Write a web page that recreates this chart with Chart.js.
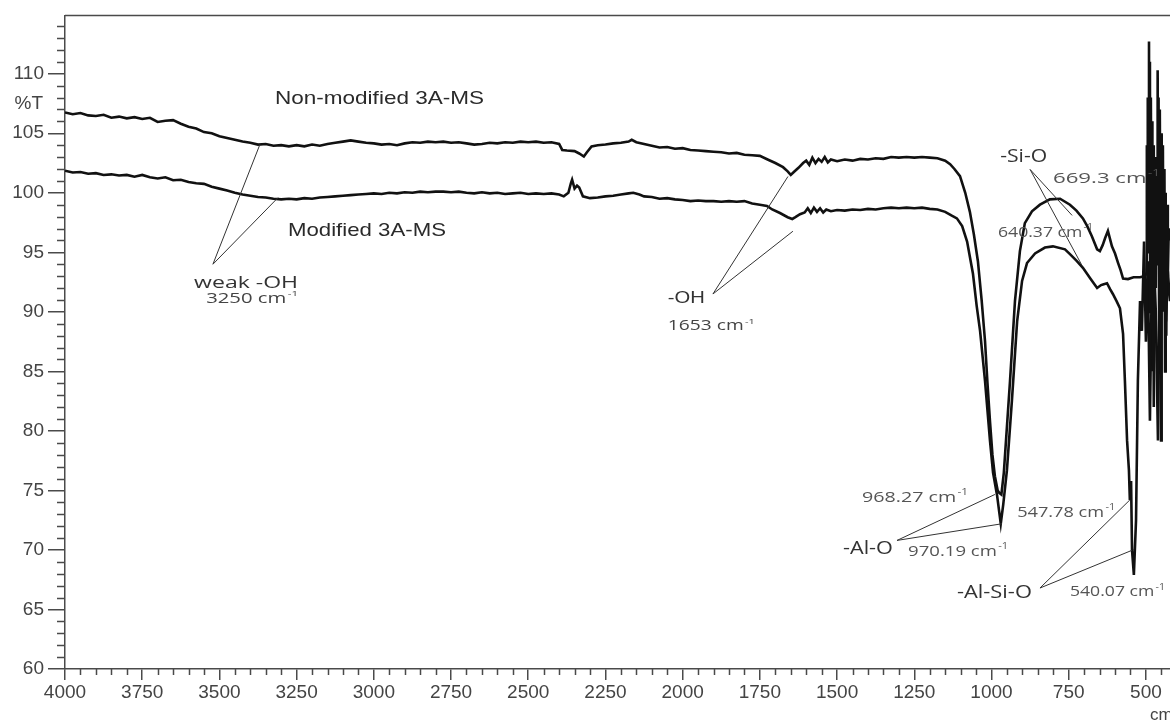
<!DOCTYPE html>
<html lang="en">
<head>
    <meta charset="UTF-8">
    <title>FTIR 3A-MS</title>
    <script src="https://cdn.jsdelivr.net/npm/chart.js"></script>
    <style>
        body, html {
            margin: 0;
            background: #fff;
        }
        canvas {
            display: block;
        }
    </style>
</head>
<body>
    <canvas id="ftirChart" width="1170" height="725"></canvas>

    <script>
        // tick values
        const xTicks = [500, 750, 1000, 1250, 1500, 1750, 2000, 2250, 2500, 2750, 3000, 3250, 3500, 3750, 4000];
        const yTicks = [60, 65, 70, 75, 80, 85, 90, 95, 100, 105, 110];

        // Non-modified 3A-MS (wavenumber cm-1, %T)
        const nmWave = [4000, 3975, 3950, 3925, 3900, 3875, 3850, 3825, 3800, 3775, 3750, 3725, 3700, 3675, 3650, 3625, 3600, 3575, 3550, 3525,
            3500, 3475, 3450, 3425, 3400, 3375, 3350, 3325, 3300, 3275, 3250, 3225, 3200, 3175, 3150, 3125, 3100, 3075, 3050, 3025,
            3000, 2975, 2950, 2925, 2900, 2875, 2850, 2825, 2800, 2775, 2750, 2725, 2700, 2675, 2650, 2625, 2600, 2575, 2550, 2525,
            2500, 2475, 2450, 2425, 2400, 2390, 2375, 2350, 2335, 2320, 2310, 2295, 2275, 2250, 2225, 2200, 2175, 2165, 2150, 2125,
            2100, 2075, 2050, 2025, 2000, 1975, 1950, 1925, 1900, 1875, 1850, 1825, 1800, 1775, 1750, 1725, 1700, 1675, 1660, 1650,
            1640, 1625, 1610, 1600, 1590, 1580, 1570, 1560, 1550, 1540, 1530, 1520, 1500, 1475, 1450, 1425, 1400, 1375, 1350, 1325,
            1300, 1275, 1250, 1225, 1200, 1175, 1150, 1134, 1120, 1102, 1085, 1070, 1057, 1044, 1032, 1021, 1013, 1005, 997, 989,
            980, 975, 968, 960, 953, 940, 924, 908, 892, 869, 843, 811, 778, 746, 725, 704, 690, 675, 658, 649,
            640, 632, 623, 618, 610, 600, 590, 582, 574, 558, 540, 519,
            503, 499, 497, 495, 494, 492, 490, 489, 487, 486, 484, 482, 480, 479, 477, 475, 474, 471, 468, 466,
            464, 462, 460, 459, 457, 455, 453, 451, 449, 447, 445, 443, 440, 438, 436, 434, 431, 429, 426, 422];
        const nmT = [106.75, 106.6, 106.7, 106.5, 106.45, 106.55, 106.3, 106.4, 106.25, 106.35, 106.2, 106.3, 105.95, 106.05, 106.1, 105.8, 105.55, 105.4, 105.1, 105.0,
            104.75, 104.6, 104.45, 104.3, 104.2, 104.05, 104.1, 103.95, 104.0, 103.9, 104.0, 103.9, 104.05, 103.95, 104.1, 104.2, 104.3, 104.4, 104.3, 104.2,
            104.15, 104.05, 104.1, 104.0, 104.15, 104.25, 104.2, 104.3, 104.25, 104.3, 104.2, 104.25, 104.15, 104.05, 104.1, 104.2, 104.15, 104.25, 104.2, 104.3,
            104.25, 104.3, 104.2, 104.25, 104.1, 103.6, 103.55, 103.5, 103.3, 103.05, 103.4, 103.9, 104.0, 104.05, 104.15, 104.2, 104.3, 104.45, 104.25, 104.1,
            103.95, 103.8, 103.85, 103.7, 103.75, 103.6, 103.55, 103.5, 103.45, 103.4, 103.3, 103.35, 103.2, 103.15, 103.1, 102.8, 102.5, 102.15, 101.8, 101.5,
            101.75, 102.1, 102.5, 102.7, 102.35, 102.95, 102.5, 102.85, 102.6, 103.0, 102.55, 102.8, 102.65, 102.8, 102.7, 102.85, 102.8, 102.9, 102.85, 103.0,
            102.95, 103.0, 102.95, 103.0, 102.95, 102.9, 102.7, 102.4, 102.0, 101.4, 100.0, 98.4, 96.5, 94.25, 91.0, 87.55, 84.0, 80.85, 78.0, 76.2,
            75.0, 74.8, 74.66, 76.5, 79.2, 84.2, 90.9, 95.1, 97.45, 98.45, 99.0, 99.45, 99.5, 99.0, 98.5, 97.85, 97.2, 96.35, 95.25, 95.1,
            95.6, 96.2, 96.8, 96.3, 95.5, 94.9, 94.1, 93.5, 92.8, 92.75, 92.9, 92.9,
            93.0, 93.2, 104.0, 96.0, 108.0, 95.0, 112.7, 97.0, 111.0, 90.0, 108.0, 96.0, 106.0, 85.0, 104.0, 98.0, 82.0, 96.0, 92.0, 103.0,
            94.0, 110.3, 96.0, 108.0, 86.0, 107.0, 95.0, 79.2, 105.0, 97.0, 104.0, 90.0, 102.0, 85.0, 100.0, 88.0, 99.0, 93.0, 97.0, 96.0];

        // Modified 3A-MS (wavenumber cm-1, %T)
        const mWave = [4000, 3975, 3950, 3925, 3900, 3875, 3850, 3825, 3800, 3775, 3750, 3725, 3700, 3675, 3650, 3625, 3600, 3575, 3550, 3525,
            3500, 3475, 3450, 3425, 3400, 3375, 3350, 3325, 3300, 3275, 3250, 3225, 3200, 3175, 3150, 3125, 3100, 3075, 3050, 3025,
            3000, 2975, 2950, 2925, 2900, 2875, 2850, 2825, 2800, 2775, 2750, 2725, 2700, 2675, 2650, 2625, 2600, 2575, 2550, 2525,
            2500, 2475, 2450, 2425, 2400, 2385, 2370, 2362, 2358, 2350, 2342, 2335, 2323, 2300, 2275, 2250, 2225, 2200, 2175, 2160,
            2140, 2125, 2100, 2075, 2050, 2025, 2000, 1975, 1950, 1925, 1900, 1875, 1850, 1825, 1800, 1775, 1750, 1727, 1710, 1685,
            1660, 1645, 1635, 1620, 1605, 1595, 1585, 1575, 1565, 1555, 1545, 1535, 1520, 1500, 1475, 1450, 1425, 1400, 1375, 1350,
            1325, 1300, 1275, 1250, 1225, 1200, 1175, 1150, 1130, 1112, 1095, 1079, 1060, 1048, 1037, 1021, 1005, 995, 982, 975,
            970, 962, 950, 934, 917, 901, 885, 859, 827, 801, 762, 746, 725, 704, 680, 658, 645, 639, 626, 616,
            607, 595, 584, 574, 568, 561, 555, 552, 548, 545, 539, 532, 526, 519, 513, 506, 500, 494, 487, 481,
            474, 468, 461, 455, 448, 442, 435, 429, 422];
        const mT = [101.85, 101.7, 101.75, 101.6, 101.65, 101.5, 101.55, 101.45, 101.5, 101.35, 101.5, 101.3, 101.2, 101.3, 101.05, 101.1, 100.9, 100.8, 100.75, 100.5,
            100.35, 100.2, 100.0, 99.85, 99.75, 99.65, 99.6, 99.5, 99.45, 99.5, 99.45, 99.55, 99.5, 99.6, 99.65, 99.7, 99.75, 99.8, 99.85, 99.9,
            99.95, 99.9, 100.0, 99.95, 100.05, 100.0, 100.1, 100.05, 100.1, 100.1, 100.05, 100.1, 100.0, 99.95, 100.05, 99.95, 100.0, 99.9, 99.95, 100.0,
            99.9, 99.95, 99.9, 99.95, 99.85, 99.7, 100.0, 100.8, 101.1, 100.35, 100.6, 100.45, 99.7, 99.55, 99.6, 99.7, 99.75, 99.85, 99.95, 100.0,
            99.85, 99.7, 99.65, 99.5, 99.55, 99.45, 99.4, 99.3, 99.35, 99.3, 99.3, 99.25, 99.3, 99.25, 99.3, 99.1, 99.0, 98.9, 98.6, 98.3,
            97.95, 97.8, 97.95, 98.2, 98.35, 98.7, 98.3, 98.75, 98.4, 98.7, 98.35, 98.6, 98.45, 98.55, 98.5, 98.6, 98.55, 98.65, 98.6, 98.7,
            98.75, 98.7, 98.75, 98.7, 98.75, 98.65, 98.6, 98.4, 98.1, 97.85, 97.2, 95.9, 93.2, 90.5, 88.4, 84.2, 79.2, 76.5, 74.6, 73.2,
            72.2, 73.8, 76.7, 82.5, 89.2, 92.6, 94.1, 94.9, 95.4, 95.5, 95.25, 94.85, 94.3, 93.7, 92.8, 92.0, 92.25, 92.3, 92.4, 91.9,
            91.5, 90.9, 90.3, 88.15, 84.2, 79.2, 76.7, 74.2, 75.8, 70.0, 67.9, 72.5, 84.2, 90.9, 88.4, 95.9, 87.5, 94.25, 80.85, 92.6,
            94.25, 90.05, 79.2, 93.4, 90.9, 95.1, 89.2, 93.4, 90.9];

        // annotation leader lines and texts, anchored in data units
        const leaders = [
            [3521, 94.0, 3369, 104.05], [3521, 94.0, 3310, 99.6],
            [1902, 91.5, 1659, 101.37], [1902, 91.5, 1643, 96.77],
            [875, 101.96, 739, 98.1], [875, 101.96, 707, 93.9],
            [1306, 70.8, 989, 74.66], [1306, 70.8, 966, 72.2],
            [843, 66.8, 552, 74.2], [843, 66.8, 545, 69.97]
        ];
        const sansA = '"Liberation Sans", Arial, sans-serif';
        const sansB = '"Open Sans", "Noto Sans", sans-serif';
        const notes = [
            { text: 'Non-modified 3A-MS', x: 3320, y: 107.9, w: 209, size: 19, family: sansA, color: '#2a2a2a' },
            { text: 'Modified 3A-MS', x: 3278, y: 96.77, w: 158, size: 19, family: sansA, color: '#2a2a2a' },
            { text: 'weak -OH', x: 3582, y: 92.41, w: 104, size: 17, family: sansB, color: '#333' },
            { text: '3250 cm', sup: '-1', x: 3543, y: 91.07, w: 92, size: 14, family: sansB, color: '#444' },
            { text: '-OH', x: 2048, y: 91.15, w: 37, size: 17, family: sansA, color: '#333' },
            { text: '1653 cm', sup: '-1', x: 2048, y: 88.8, w: 87, size: 14, family: sansB, color: '#444' },
            { text: '-Si-O', x: 972, y: 103.05, w: 47, size: 18, family: sansB, color: '#333' },
            { text: '669.3 cm', sup: '-1', x: 801, y: 101.2, w: 107, size: 15, family: sansB, color: '#555' },
            { text: '640.37 cm', sup: '-1', x: 979, y: 96.68, w: 95, size: 15, family: sansB, color: '#555' },
            { text: '968.27 cm', sup: '-1', x: 1419, y: 74.4, w: 106, size: 15, family: sansB, color: '#555' },
            { text: '-Al-O', x: 1481, y: 70.13, w: 50, size: 18, family: sansB, color: '#333' },
            { text: '970.19 cm', sup: '-1', x: 1270, y: 69.88, w: 100, size: 15, family: sansB, color: '#555' },
            { text: '547.78 cm', sup: '-1', x: 917, y: 73.15, w: 98, size: 15, family: sansB, color: '#555' },
            { text: '-Al-Si-O', x: 1112, y: 66.37, w: 75, size: 18, family: sansB, color: '#333' },
            { text: '540.07 cm', sup: '-1', x: 746, y: 66.45, w: 95, size: 15, family: sansB, color: '#555' }
        ];

        const axisColor = '#4a4a4a';
        const tickFont = { family: sansA, size: 19 };

        function drawNote(ctx, n, px, py) {
            ctx.save();
            ctx.font = n.size + 'px ' + n.family;
            const mainW = ctx.measureText(n.text).width;
            let supW = 0;
            if (n.sup) {
                ctx.font = Math.round(n.size * 0.6) + 'px ' + n.family;
                supW = ctx.measureText(n.sup).width + 1;
            }
            const sx = n.w / (mainW + supW);
            ctx.translate(px, py);
            ctx.scale(sx, 1);
            ctx.fillStyle = n.color;
            ctx.textBaseline = 'middle';
            ctx.textAlign = 'left';
            ctx.font = n.size + 'px ' + n.family;
            ctx.fillText(n.text, 0, 0);
            if (n.sup) {
                ctx.font = Math.round(n.size * 0.6) + 'px ' + n.family;
                ctx.fillText(n.sup, mainW + 1, -n.size * 0.35);
            }
            ctx.restore();
        }

        const extras = {
            id: 'extras',
            afterDraw(chart) {
                const ctx = chart.ctx;
                const xs = chart.scales.x, ys = chart.scales.y;
                const area = chart.chartArea;
                ctx.save();
                ctx.strokeStyle = axisColor;

                // top frame line
                ctx.lineWidth = 1.5;
                ctx.beginPath();
                ctx.moveTo(area.left, area.top);
                ctx.lineTo(area.right, area.top);
                ctx.stroke();

                // minor ticks
                ctx.lineWidth = 1.5;
                ctx.beginPath();
                for (let v = 61; v < 115; v++) {
                    if (v % 5 === 0) continue;
                    const p = Math.round(ys.getPixelForValue(v)) + 0.5;
                    ctx.moveTo(area.left - 8, p);
                    ctx.lineTo(area.left, p);
                }
                for (let v = 450; v < 4000; v += 50) {
                    if (v % 250 === 0) continue;
                    const p = Math.round(xs.getPixelForValue(v)) + 0.5;
                    ctx.moveTo(p, area.bottom);
                    ctx.lineTo(p, area.bottom + 6);
                }
                ctx.stroke();

                // leader lines
                ctx.strokeStyle = '#333';
                ctx.lineWidth = 1;
                ctx.beginPath();
                leaders.forEach(l => {
                    ctx.moveTo(xs.getPixelForValue(l[0]), ys.getPixelForValue(l[1]));
                    ctx.lineTo(xs.getPixelForValue(l[2]), ys.getPixelForValue(l[3]));
                });
                ctx.stroke();
                ctx.restore();

                notes.forEach(n => drawNote(ctx, n, xs.getPixelForValue(n.x), ys.getPixelForValue(n.y)));

                // axis captions
                ctx.save();
                ctx.fillStyle = '#444';
                ctx.font = '19px ' + sansA;
                ctx.textAlign = 'right';
                ctx.textBaseline = 'middle';
                ctx.fillText('%T', area.left - 22, ys.getPixelForValue(107.5));
                ctx.textAlign = 'left';
                ctx.font = '17px ' + sansA;
                ctx.fillText('cm-1', area.right - 20, area.bottom + 46);
                ctx.restore();
            }
        };

        const ctx = document.getElementById('ftirChart').getContext('2d');
        new Chart(ctx, {
            type: 'line',
            data: {
                datasets: [{
                    label: 'Non-modified 3A-MS',
                    data: nmWave.map((w, i) => ({ x: w, y: nmT[i] })),
                    borderColor: '#111',
                    borderWidth: 2.6,
                    pointRadius: 0,
                    tension: 0
                }, {
                    label: 'Modified 3A-MS',
                    data: mWave.map((w, i) => ({ x: w, y: mT[i] })),
                    borderColor: '#111',
                    borderWidth: 2.6,
                    pointRadius: 0,
                    tension: 0
                }]
            },
            options: {
                responsive: false,
                animation: false,
                devicePixelRatio: 1,
                layout: { padding: { top: 14, right: 0, left: 0, bottom: 0 } },
                plugins: {
                    legend: { display: false },
                    tooltip: { enabled: false }
                },
                scales: {
                    x: {
                        type: 'linear',
                        reverse: true,
                        min: 422,
                        max: 4000,
                        afterBuildTicks: s => { s.ticks = xTicks.map(v => ({ value: v })); },
                        afterFit: s => { s.height = 56; s.paddingLeft = 0; s.paddingRight = 0; },
                        grid: { drawOnChartArea: false, tickLength: 11, color: axisColor, lineWidth: 1.5 },
                        border: { color: axisColor, width: 1.5 },
                        ticks: { font: tickFont, color: '#444', padding: 1, maxRotation: 0, autoSkip: false, callback: v => String(v) }
                    },
                    y: {
                        min: 60,
                        max: 114.9,
                        afterBuildTicks: s => { s.ticks = yTicks.map(v => ({ value: v })); },
                        afterFit: s => { s.width = 65; },
                        grid: { drawOnChartArea: false, tickLength: 17, color: axisColor, lineWidth: 1.5 },
                        border: { color: axisColor, width: 1.5 },
                        ticks: { font: tickFont, color: '#444', padding: 4, callback: v => String(v) }
                    }
                }
            },
            plugins: [extras]
        });
    </script>
</body>
</html>
